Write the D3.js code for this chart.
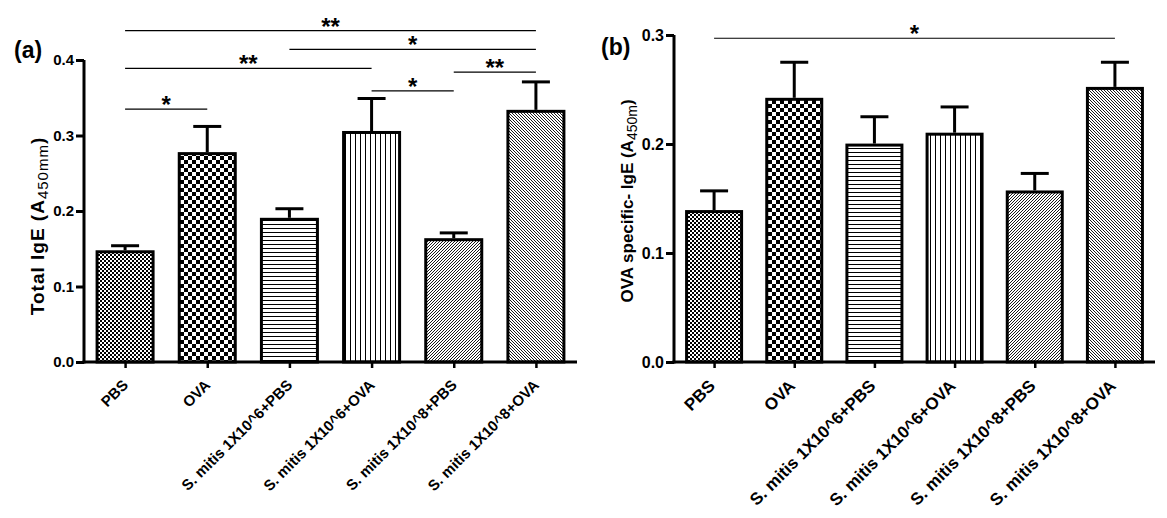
<!DOCTYPE html>
<html>
<head>
<meta charset="utf-8">
<script src="https://cdn.jsdelivr.net/npm/d3@7"></script>
<style>
  html, body { margin: 0; padding: 0; background: #fff; }
  svg { display: block; }
  text { font-family: "Liberation Sans", Arial, sans-serif; font-weight: bold; fill: #000; }
</style>
</head>
<body>
<svg id="chart" width="1167" height="518"></svg>
<script>
// ---------- data ----------
const categories = ["PBS", "OVA", "S. mitis 1X10^6+PBS", "S. mitis 1X10^6+OVA", "S. mitis 1X10^8+PBS", "S. mitis 1X10^8+OVA"];
const patternIds = ["fineCheck", "bigCheck", "hLines", "vLines", "diagUp", "diagDown"];

const totalIgE    = [0.146, 0.276, 0.189, 0.304, 0.162, 0.332];
const totalIgEErr = [0.008, 0.036, 0.014, 0.045, 0.009, 0.039];

const ovaIgE    = [0.138, 0.241, 0.199, 0.209, 0.156, 0.251];
const ovaIgEErr = [0.019, 0.034, 0.026, 0.025, 0.017, 0.024];

const ticksA = [0.0, 0.1, 0.2, 0.3, 0.4];
const ticksB = [0.0, 0.1, 0.2, 0.3];

const sigFromA  = [0, 2, 0, 4, 3, 0];
const sigToA    = [5, 5, 3, 5, 4, 1];
const sigLevelA = [0.439, 0.414, 0.389, 0.384, 0.359, 0.335];
const sigLabelA = ["**", "*", "**", "**", "*", "*"];

const sigFromB  = [0];
const sigToB    = [5];
const sigLevelB = [0.297];
const sigLabelB = ["*"];

// ---------- patterns ----------
const svg = d3.select("#chart");
const defs = svg.append("defs");

function pat(id, w, h) {
  const p = defs.append("pattern").attr("id", id)
    .attr("patternUnits", "userSpaceOnUse").attr("width", w).attr("height", h);
  p.append("rect").attr("width", w).attr("height", h).attr("fill", "#fff");
  return p;
}
let p = pat("fineCheck", 4, 4);
p.append("rect").attr("x", 0).attr("y", 0).attr("width", 2).attr("height", 2).attr("fill", "#000");
p.append("rect").attr("x", 2).attr("y", 2).attr("width", 2).attr("height", 2).attr("fill", "#000");
p = pat("bigCheck", 8, 8);
p.append("rect").attr("x", 0).attr("y", 0).attr("width", 4).attr("height", 4).attr("fill", "#000");
p.append("rect").attr("x", 4).attr("y", 4).attr("width", 4).attr("height", 4).attr("fill", "#000");
p = pat("hLines", 4, 4);
p.append("rect").attr("x", 0).attr("y", 0).attr("width", 4).attr("height", 1).attr("fill", "#000");
p = pat("vLines", 5, 4);
p.append("rect").attr("x", 0).attr("y", 0).attr("width", 1).attr("height", 4).attr("fill", "#000");
p = pat("diagUp", 3, 3);
p.append("path").attr("d", "M-1,1 L1,-1 M0,3 L3,0 M2,4 L4,2").attr("stroke", "#000").attr("stroke-width", 0.9);
p = pat("diagDown", 3, 3);
p.append("path").attr("d", "M-1,2 L1,4 M0,0 L3,3 M2,-1 L4,1").attr("stroke", "#000").attr("stroke-width", 0.9);

// ---------- panel drawing ----------
function drawPanel(cfg) {
  const g = svg.append("g");
  const x = d3.scalePoint().domain(categories).range([cfg.x0, cfg.x1]).padding(0.5);
  const y = d3.scaleLinear().domain([0, cfg.yMax]).range([cfg.yBottom, cfg.yTop]);
  const bw = cfg.barWidth;

  // bars
  g.selectAll("rect.bar").data(categories).join("rect")
    .attr("class", "bar")
    .attr("x", d => x(d) - bw / 2)
    .attr("y", (d, i) => y(cfg.values[i]))
    .attr("width", bw)
    .attr("height", (d, i) => y(0) - y(cfg.values[i]))
    .attr("fill", (d, i) => `url(#${patternIds[i]})`)
    .attr("stroke", "#000").attr("stroke-width", 3);

  // error bars
  const eg = g.selectAll("g.err").data(categories).join("g").attr("class", "err");
  eg.append("line")
    .attr("x1", d => x(d)).attr("x2", d => x(d))
    .attr("y1", (d, i) => y(cfg.values[i]) - 1.5)
    .attr("y2", (d, i) => y(cfg.values[i] + cfg.errors[i]))
    .attr("stroke", "#000").attr("stroke-width", 3);
  eg.append("line")
    .attr("x1", d => x(d) - cfg.capW / 2).attr("x2", d => x(d) + cfg.capW / 2)
    .attr("y1", (d, i) => y(cfg.values[i] + cfg.errors[i]))
    .attr("y2", (d, i) => y(cfg.values[i] + cfg.errors[i]))
    .attr("stroke", "#000").attr("stroke-width", 3);

  // y axis
  const yAxis = d3.axisLeft(y).tickValues(cfg.ticks).tickFormat(d3.format(".1f")).tickSize(8).tickPadding(2);
  const ya = g.append("g").attr("transform", `translate(${cfg.x0},0)`).call(yAxis);
  ya.select(".domain").attr("d", `M0,${y(cfg.yMax)}V${y(0) + 1.5}`).attr("stroke-width", 3);
  ya.selectAll(".tick line").attr("stroke-width", 3);
  ya.selectAll(".tick text").style("font-size", cfg.tickFont + "px").style("font-family", '"Liberation Sans", Arial, sans-serif').style("font-weight", "bold");

  // x axis
  const xAxis = d3.axisBottom(x).tickSize(6).tickFormat("");
  const xa = g.append("g").attr("transform", `translate(0,${y(0)})`).call(xAxis);
  xa.select(".domain").attr("d", `M${cfg.x0 - 1.5},0H${cfg.x1}`).attr("stroke-width", 3);
  xa.selectAll(".tick line").attr("stroke-width", 2.5);

  // x labels
  g.selectAll("text.xl").data(categories).join("text")
    .attr("class", "xl")
    .attr("transform", d => `translate(${x(d) + cfg.lblDx},${y(0) + cfg.lblDy}) rotate(-45)`)
    .attr("text-anchor", "end")
    .style("font-size", cfg.lblFont + "px")
    .text(d => d);

  // significance
  cfg.sigFrom.forEach((f, i) => {
    const x1 = x(categories[f]), x2 = x(categories[cfg.sigTo[i]]);
    const yy = y(cfg.sigLevel[i]);
    g.append("line").attr("x1", x1).attr("x2", x2).attr("y1", yy).attr("y2", yy)
      .attr("stroke", "#000").attr("stroke-width", 1.2);
    g.append("text").attr("x", (x1 + x2) / 2).attr("y", yy + 4)
      .attr("text-anchor", "middle").style("font-size", "24px").text(cfg.sigLabel[i]);
  });

  // y title
  const t = g.append("text")
    .attr("transform", `translate(${cfg.titleX},${cfg.titleY}) rotate(-90)`)
    .attr("text-anchor", "middle").style("font-size", cfg.titleFont + "px")
    .style("letter-spacing", cfg.titleSpacing + "px");
  t.append("tspan").text(cfg.title + " (A");
  t.append("tspan").attr("dy", 4).style("font-size", cfg.subFont + "px").style("font-weight", "normal").text(cfg.sub);
  t.append("tspan").attr("dy", -4).text(")");

  // panel label
  g.append("text").attr("x", cfg.labelX).attr("y", cfg.labelY).style("font-size", "23px").text(cfg.label);
}

drawPanel({
  values: totalIgE, errors: totalIgEErr, ticks: ticksA, yMax: 0.4,
  x0: 84, x1: 577, yBottom: 362, yTop: 60, barWidth: 56, capW: 28,
  tickFont: 15, lblFont: 15, lblDx: 4, lblDy: 24,
  sigFrom: sigFromA, sigTo: sigToA, sigLevel: sigLevelA, sigLabel: sigLabelA,
  title: "Total IgE", sub: "450mm", titleX: 44, titleY: 226, titleFont: 19, subFont: 15, titleSpacing: 1,
  label: "(a)", labelX: 14, labelY: 58
});

drawPanel({
  values: ovaIgE, errors: ovaIgEErr, ticks: ticksB, yMax: 0.3,
  x0: 674, x1: 1155, yBottom: 362, yTop: 35, barWidth: 55, capW: 28,
  tickFont: 16, lblFont: 17, lblDx: 2, lblDy: 25,
  sigFrom: sigFromB, sigTo: sigToB, sigLevel: sigLevelB, sigLabel: sigLabelB,
  title: "OVA specific- IgE", sub: "450m", titleX: 633, titleY: 201, titleFont: 17, subFont: 14, titleSpacing: 0,
  label: "(b)", labelX: 601, labelY: 55
});
</script>
</body>
</html>
